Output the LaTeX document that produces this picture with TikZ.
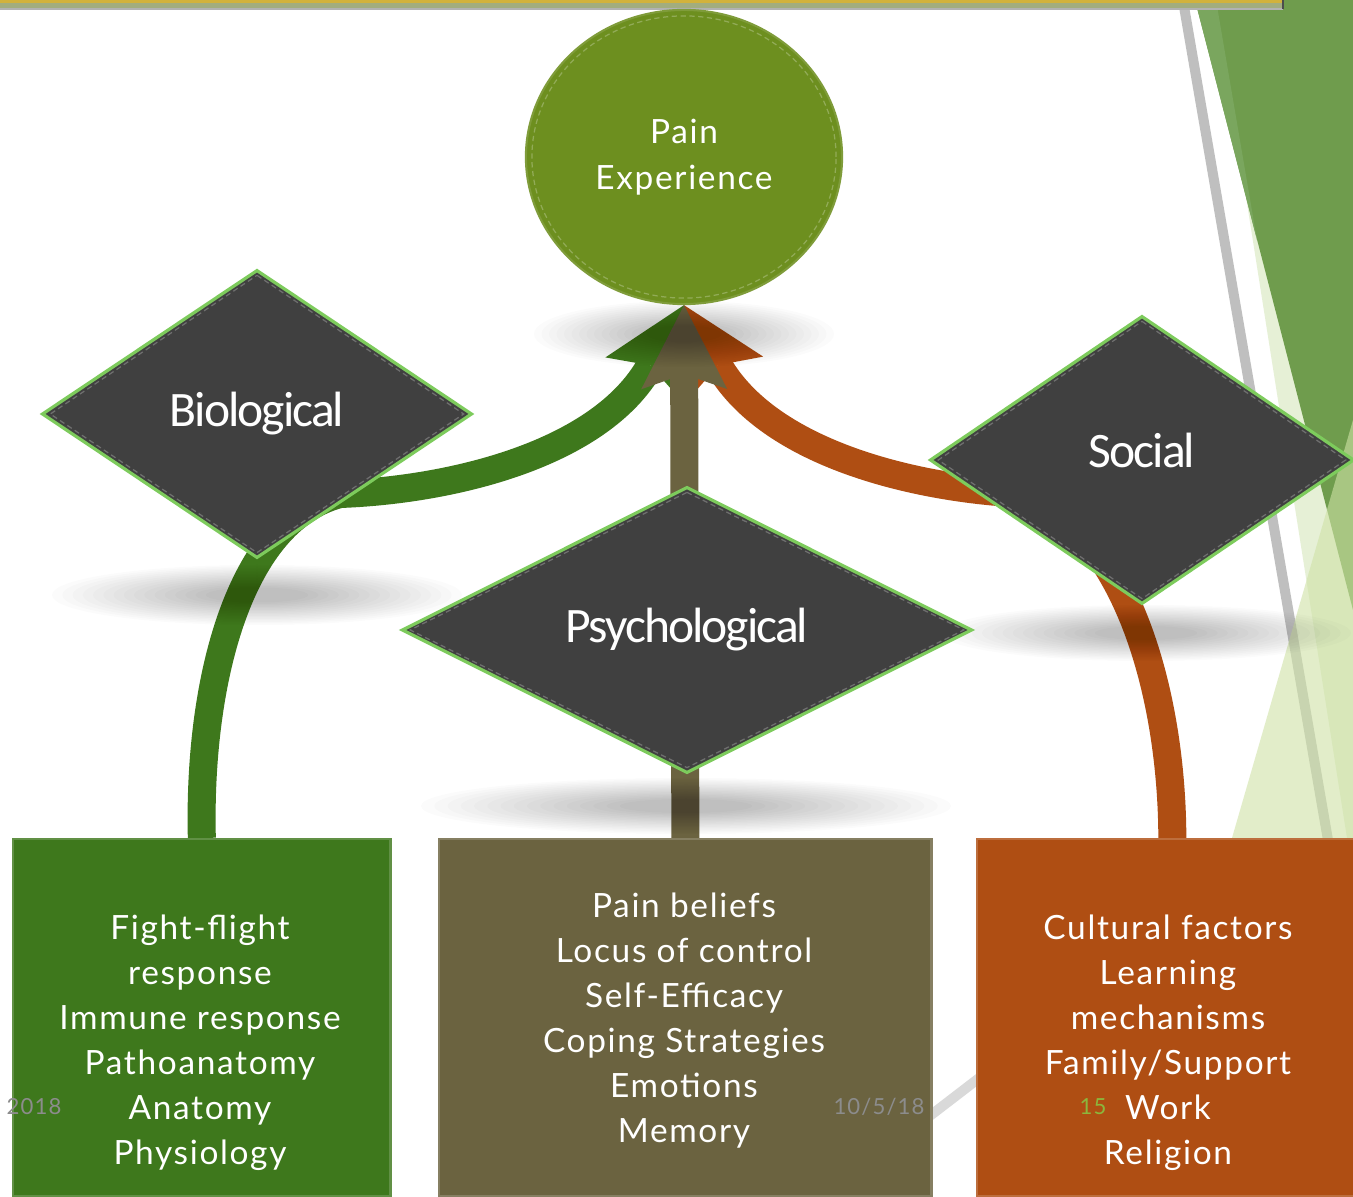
\documentclass[tikz,border=0pt]{standalone}
\usepackage{fontspec}
\setmainfont{Lato}
\newfontfamily\boxfont[LetterSpace=5]{Lato}
\newfontfamily\diafont[LetterSpace=-4]{Carlito}
\usetikzlibrary{shapes.geometric,arrows.meta}

\definecolor{bioGreen}{HTML}{3E781C}
\definecolor{psyBrown}{HTML}{6B6340}
\definecolor{socOrange}{HTML}{AF4E13}
\definecolor{painGreen}{HTML}{6D8F1F}
\definecolor{diaGray}{HTML}{404040}
\definecolor{glowGreen}{HTML}{7DCB5C}
\definecolor{decoGreen}{HTML}{6F9C4D}
\definecolor{decoStrip}{HTML}{7AA65E}
\definecolor{decoPale}{HTML}{E6F0D6}
\definecolor{decoLight}{HTML}{CFE2A6}
\definecolor{railGray}{HTML}{BFBFBF}
\definecolor{footGray}{HTML}{8C8C8C}
\definecolor{pageGreen}{HTML}{8CB63C}
\definecolor{barGold}{HTML}{D2B23C}
\definecolor{barSage}{HTML}{A2AD7E}

\pgfdeclarelayer{deco}
\pgfdeclarelayer{links}
\pgfdeclarelayer{shade}
\pgfsetlayers{deco,links,shade,main}

% inner stitched outline of a diamond node
\newcommand\stitchdia[1]{%
  \draw[stitch] ([yshift=-0.07cm]#1.north) -- ([xshift=-0.1cm]#1.east)
    -- ([yshift=0.07cm]#1.south) -- ([xshift=0.1cm]#1.west) -- cycle;}

\begin{document}
\begin{tikzpicture}[x=0.01cm,y=-0.01cm,
  factor/.style={diamond, fill=diaGray, draw=glowGreen, line width=0.9pt,
    text=white, inner sep=0pt, font=\diafont\fontsize{14.1}{16}\selectfont},
  stitch/.style={draw=white, opacity=0.25, line width=0.35pt, dash pattern=on 1.5pt off 1pt},
  area/.style={rectangle, anchor=north west, minimum height=3.57cm, inner sep=0pt,
    fill=#1, draw=#1!82!white, line width=0.7pt},
  itemtext/.style={text=white, align=center, inner sep=0pt,
    font=\boxfont\fontsize{9.5}{12.8}\selectfont},
  band/.style={draw=#1, line width=0.28cm,
    -{Stealth[length=0.84cm, width=0.86cm, inset=0.15cm, line width=0pt]}},
  footer/.style={inner sep=0pt, text=footGray, font=\boxfont\fontsize{6.3}{7}\selectfont},
  shadowfill/.style={fill=black, opacity=0.017},
]
\useasboundingbox (0,0) rectangle (1353,1197);

% ---- central experience and the three factors
\node[ellipse, fill=painGreen, draw=painGreen!88!white, line width=0.6pt,
  minimum width=3.16cm, minimum height=2.94cm, text=white, align=center,
  font=\boxfont\fontsize{9.5}{13.1}\selectfont] (pain) at (684,157) {Pain\\Experience};
\draw[stitch] (pain.center) ellipse [x radius=1.52cm, y radius=1.41cm];

\node[factor, minimum width=4.30cm, minimum height=2.88cm] (bio) at (257,414) {Biological};
\node[factor, minimum width=5.70cm, minimum height=2.86cm] (psy) at (687,630) {Psychological};
\node[factor, minimum width=4.24cm, minimum height=2.88cm] (soc) at (1142,460)
  {\raisebox{0.2cm}{Social}};
\stitchdia{bio}
\stitchdia{psy}
\stitchdia{soc}

% ---- detail boxes
\node[area=bioGreen, minimum width=3.77cm] (bioBox) at (12,838) {};
\node[area=psyBrown, minimum width=4.92cm] (psyBox) at (438,838) {};
\node[area=socOrange, minimum width=3.90cm] (socBox) at (976,838) {};

\node[itemtext] (bioList) at (200,1043)
  {Fight-flight\\response\\Immune response\\Pathoanatomy\\Anatomy\\Physiology};
\node[itemtext] (psyList) at (684,1021)
  {Pain beliefs\\Locus of control\\Self-Efficacy\\Coping Strategies\\Emotions\\Memory};
\node[itemtext] (socList) at (1168,1043)
  {Cultural factors\\Learning\\mechanisms\\Family/Support\\Work\\Religion};

% ---- footer
\node[footer] (year) at (34,1107) {2018};
\node[footer] (date) at (879,1107) {10/5/18};
\node[footer, text=pageGreen] (pageNo) at (1093,1107) {15};

% ---- page decoration
\begin{pgfonlayer}{deco}
  \fill[white] (0,0) rectangle (1353,1197);
  \fill[decoPale] (1215,0) -- (1353,0) -- (1353,838) -- (1347,838) -- cycle;
  \fill[decoGreen] (1195,0) -- (1353,0) -- (1353,610) -- cycle;
  \fill[decoStrip] (1195,0) -- (1216,0) -- (1257,240) -- cycle;
  \draw[railGray, line width=0.1cm] (1182,-5) -- (1328,840);
  \fill[decoLight, opacity=0.6] (1232,838) -- (1353,420) -- (1353,838) -- cycle;
  \draw[gray!30, line width=0.1cm] (905,1135) -- (1000,1062);
  \fill[barGold] (0,0) rectangle (1283,3);
  \fill[barSage] (0,3) rectangle (1283,8);
  \draw[gray!60, line width=0.3pt] (0,9) -- (1283,9);
  \draw[black!70, line width=0.6pt] (1283,0) -- (1283,9);
\end{pgfonlayer}

% ---- converging arrows
\begin{pgfonlayer}{links}
  \draw[band=bioGreen] (bioBox.north) .. controls (198,680) and (240,520) .. (340,494)
    .. controls (450,490) and (600,455) .. (pain.south);
  \draw[band=socOrange] (socBox.north) .. controls (1172,700) and (1130,540) .. (1030,494)
    .. controls (920,490) and (770,455) .. (pain.south);
  \draw[band=psyBrown] (psyBox.north) -- (pain.south);
\end{pgfonlayer}

% ---- soft cast shadows
\begin{pgfonlayer}{shade}
  \foreach \sx/\sy/\sa/\sb in {257/595/205/30, 686/806/265/28, 1146/633/205/28, 684/334/150/33}
    \foreach \f in {1,0.95,0.9,0.85,0.8,0.75,0.7,0.65,0.6,0.55,0.5,0.45,0.4,0.35,0.3,0.25}
      \fill[shadowfill] (\sx,\sy) ellipse [x radius=\f*\sa, y radius=\f*\sb];
\end{pgfonlayer}
\end{tikzpicture}
\end{document}
